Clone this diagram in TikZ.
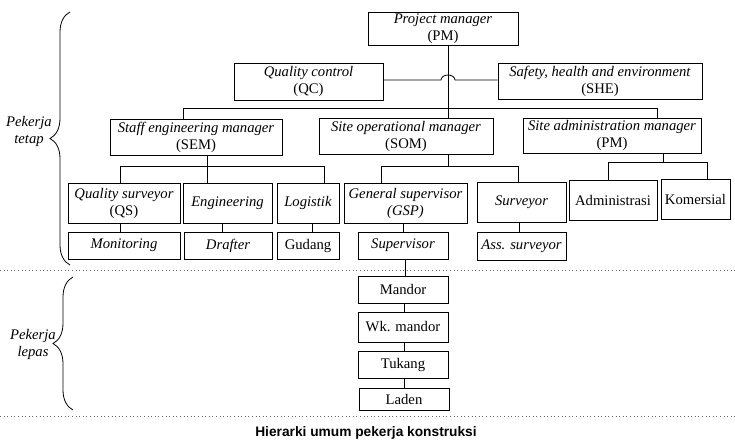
\documentclass[tikz,border=0pt]{standalone}
\usepackage{fontspec}
\setmainfont{Liberation Serif}
\newfontfamily\sanscap{Liberation Sans}
\usetikzlibrary{decorations.pathreplacing}

\begin{document}
\begin{tikzpicture}[x=0.75pt, y=-0.75pt,
  box/.style = {draw, align=center, inner sep=0pt, line width=0.6pt, font=\fontsize{11}{12.75}\selectfont},
  tall/.style = {box, minimum height=30pt},
  flat/.style = {box, minimum height=20.25pt},
  link/.style = {line width=0.6pt},
  sep/.style = {dotted, line width=0.7pt, black!60},
  grp/.style = {decorate, decoration={brace, amplitude=15pt}, line width=0.6pt},
  side/.style = {align=center, font=\fontsize{11}{12.75}\selectfont\itshape}]
  \useasboundingbox (0,0) rectangle (735,446);

  % top levels
  \node[box, minimum width=112.5pt, minimum height=24.75pt] (PM) at (443,28.5) {\textit{Project manager}\\(PM)};
  \node[box, minimum width=111.75pt, minimum height=27.75pt] (QC) at (308.5,81.5) {\textit{Quality control}\\(QC)};
  \node[box, minimum width=153pt, minimum height=27pt] (SHE) at (600,81) {\textit{Safety, health and environment}\\(SHE)};
  \node[box, minimum width=129pt, minimum height=27pt] (SEM) at (196,137) {\textit{Staff engineering manager}\\(SEM)};
  \node[box, minimum width=130.5pt, minimum height=27pt] (SOM) at (406,136) {\textit{Site operational manager}\\(SOM)};
  \node[box, minimum width=133.5pt, minimum height=26.25pt] (SAM) at (612,135.5) {\textit{Site administration manager}\\(PM)};

  % third level
  \node[tall, minimum width=84pt] (QS) at (124,203) {\textit{Quality surveyor}\\(QS)};
  \node[tall, minimum width=66.75pt] (Eng) at (227.5,203) {\textit{Engineering}};
  \node[tall, minimum width=46.5pt] (Log) at (308,203) {\textit{Logistik}};
  \node[tall, minimum width=92.25pt] (GSP) at (405.5,203) {\textit{General supervisor}\\\textit{(GSP)}};
  \node[tall, minimum width=66.75pt] (Surv) at (521.5,202) {\textit{Surveyor}};
  \node[tall, minimum width=66pt] (Adm) at (613,200) {Administrasi};
  \node[tall, minimum width=51.75pt] (Kom) at (695.5,199) {Komersial};

  % fourth level
  \node[flat, minimum width=84pt] (Mon) at (124,245.5) {\textit{Monitoring}};
  \node[flat, minimum width=66pt] (Draf) at (228,245.5) {\textit{Drafter}};
  \node[flat, minimum width=46.5pt] (Gud) at (308,245.5) {Gudang};
  \node[flat, minimum width=67.5pt] (Sup) at (403,245.5) {\textit{Supervisor}};
  \node[flat, minimum width=66.75pt, minimum height=21pt] (Ass) at (521.5,246) {\textit{Ass. surveyor}};

  % pekerja lepas
  \node[flat, minimum width=67.5pt] (Mandor) at (403,289.5) {Mandor};
  \node[flat, minimum width=67.5pt, minimum height=22.5pt] (Wk) at (403,327) {Wk. mandor};
  \node[flat, minimum width=67.5pt] (Tukang) at (403,364.5) {Tukang};
  \node[flat, minimum width=67.5pt, minimum height=16.5pt] (Laden) at (404,399) {Laden};

  % connectors
  \draw[link] (PM.south -| 448,0) -- (SOM.north -| 448,0);
  \draw[link] (QC.east |- 0,80) -- (441,80) arc[start angle=180, end angle=360, x radius=7, y radius=5] -- (SHE.west |- 0,80);
  \draw[link] (SEM.north -| 183,0) -- ++(0,-10) -| (SAM.north -| 657,0);
  \draw[link] (SEM.south -| 207,0) -- (Eng.north -| 207,0);
  \draw[link] (QS.north -| 120,0) -- ++(0,-16) -| (Log.north -| 324,0);
  \draw[link] (QS.south -| 120,0) -- (Mon.north -| 120,0);
  \draw[link] (Eng.south -| 222,0) -- (Draf.north -| 222,0);
  \draw[link] (Log.south -| 312,0) -- (Gud.north -| 312,0);
  \draw[link] (SOM.south -| 448,0) -- ++(0,13);
  \draw[link] (GSP.north -| 381,0) -- ++(0,-16) -| (Surv.north -| 518,0);
  \draw[link] (GSP.south -| 403,0) -- (Sup.north -| 403,0);
  \draw[link] (Surv.south -| 519,0) -- (Ass.north -| 519,0);
  \draw[link] (SAM.south -| 663,0) -- ++(0,10);
  \draw[link] (Adm.north -| 608,0) -- ++(0,-17) -| (Kom.north -| 707,0);
  \draw[link] (Sup.south -| 405,0) -- (Mandor.north -| 405,0);
  \draw[link] (Mandor.south -| 404,0) -- (Wk.north -| 404,0);
  \draw[link] (Wk.south -| 404,0) -- (Tukang.north -| 404,0);
  \draw[link] (Tukang.south -| 404,0) -- (Laden.north -| 404,0);

  % groups
  \draw[sep] (0,270) -- (735,270);
  \draw[sep] (0,416) -- (735,416);
  \draw[grp] (70,265) -- (70,12);
  \draw[grp] (73,410) -- (73,277);
  \node[side] (tetap) at (29,131) {Pekerja\\tetap};
  \node[side] (lepas) at (33,344) {Pekerja\\lepas};

  \node[font=\sanscap\bfseries\fontsize{10.3}{12}\selectfont] (title) at (366,433) {Hierarki umum pekerja konstruksi};
\end{tikzpicture}
\end{document}
